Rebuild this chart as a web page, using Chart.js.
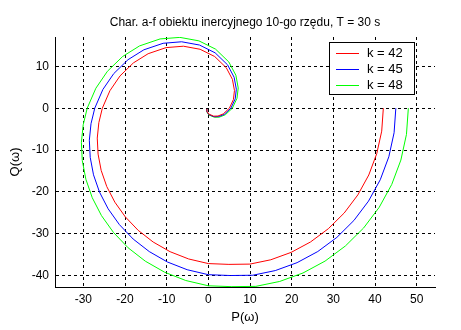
<!DOCTYPE html>
<html>
<head>
<meta charset="utf-8">
<script src="https://cdn.jsdelivr.net/npm/chart.js@4/dist/chart.umd.min.js"></script>
<style>
  html, body { margin: 0; padding: 0; background: #fff; }
  #wrap { width: 461px; height: 330px; }
</style>
</head>
<body>
<div id="wrap"><canvas id="nyq" width="461" height="330"></canvas></div>
<script>
// punkty: P(w) i Q(w) dla k = 42, 45, 48
const p42 = [42, 41.61, 40.43, 38.51, 35.88, 32.61, 28.79, 24.52, 19.88, 14.99, 9.98, 4.94, 0, -4.74, -9.18, -13.24, -16.84, -19.92, -22.44, -24.38, -25.72, -26.46, -26.66, -26.28, -25.44, -23.62, -21.19, -17.99, -14.45, -10.13, -5.98, -1.98, 1.52, 4.30, 5.78, 6.27, 6.02, 5.05, 3.57, 2.30, 1.28, 0.10, -0.36, -0.34];
const q42 = [0, -5.48, -10.83, -15.95, -20.71, -25.03, -28.79, -31.95, -34.43, -36.20, -37.23, -37.30, -37.11, -36.00, -34.27, -31.96, -29.17, -25.96, -22.44, -18.71, -14.85, -10.96, -7.14, -3.46, 0, 4.17, 7.71, 10.81, 13.01, 14.47, 14.80, 14.07, 12.34, 9.67, 6.89, 4.23, 2.07, 0, -1.37, -1.87, -1.90, -1.40, -0.71, -0.17];

const p45 = [45, 44.58, 43.32, 41.26, 38.44, 34.94, 30.85, 26.27, 21.30, 16.06, 10.69, 5.29, 0, -5.08, -9.84, -14.18, -18.04, -21.34, -24.04, -26.12, -27.56, -28.35, -28.56, -28.16, -27.26, -25.31, -22.70, -19.28, -15.48, -10.85, -6.41, -2.12, 1.63, 4.61, 6.19, 6.72, 6.45, 5.41, 3.83, 2.46, 1.37, 0.11, -0.39, -0.36];
const q45 = [0, -5.87, -11.60, -17.09, -22.19, -26.81, -30.85, -34.23, -36.89, -38.78, -39.89, -39.96, -39.76, -38.57, -36.72, -34.24, -31.25, -27.81, -24.04, -20.04, -15.91, -11.74, -7.65, -3.71, 0, 4.47, 8.26, 11.58, 13.94, 15.50, 15.86, 15.08, 13.22, 10.36, 7.38, 4.53, 2.22, 0, -1.47, -2.00, -2.04, -1.50, -0.76, -0.18];

const p48 = [48, 47.55, 46.21, 44.01, 41.01, 37.27, 32.90, 28.02, 22.72, 17.14, 11.41, 5.64, 0, -5.42, -10.49, -15.13, -19.25, -22.77, -25.65, -27.86, -29.39, -30.25, -30.47, -30.03, -29.07, -26.99, -24.22, -20.56, -16.51, -11.58, -6.83, -2.26, 1.74, 4.91, 6.61, 7.17, 6.88, 5.77, 4.08, 2.63, 1.46, 0.11, -0.41, -0.39];
const q48 = [0, -6.26, -12.38, -18.23, -23.67, -28.60, -32.90, -36.51, -39.35, -41.37, -42.55, -42.62, -42.41, -41.15, -39.17, -36.53, -33.34, -29.67, -25.65, -21.38, -16.97, -12.53, -8.16, -3.95, 0, 4.77, 8.81, 12.35, 14.87, 16.54, 16.91, 16.08, 14.10, 11.05, 7.87, 4.83, 2.37, 0, -1.57, -2.14, -2.17, -1.60, -0.81, -0.19];

const seriesNames = ['k = 42', 'k = 45', 'k = 48'];
const seriesColors = ['#ff0000', '#0000ff', '#00ff00'];

const xTicks = [-30, -20, -10, 0, 10, 20, 30, 40, 50];
const yTicks = [-40, -30, -20, -10, 0, 10];

const chartTitle = 'Char. a-f obiektu inercyjnego 10-go rzędu, T = 30 s';
const xLabel = 'P(\u03c9)';
const yLabel = 'Q(\u03c9)';

const FONT = '"Liberation Sans", Arial, sans-serif';

function toPoints(ps, qs) {
    return ps.map((p, i) => ({ x: p, y: qs[i] }));
}

const allSeries = [[p42, q42], [p45, q45], [p48, q48]];

const datasets = allSeries.map((s, i) => ({
    label: seriesNames[i],
    data: toPoints(s[0], s[1]),
    borderColor: seriesColors[i],
    backgroundColor: seriesColors[i],
    borderWidth: 1,
    pointRadius: 0,
    showLine: true,
    tension: 0
}));

// tytul, opisy osi i legenda rysowane recznie (jak w MATLABie)
const textPlugin = {
    id: 'matlabText',
    afterDraw(chart) {
        const ctx = chart.ctx;
        const area = chart.chartArea;
        ctx.save();
        ctx.setLineDash([]);
        ctx.fillStyle = '#000';
        ctx.textAlign = 'center';
        ctx.textBaseline = 'middle';

        ctx.font = '12px ' + FONT;
        ctx.fillText(chartTitle, (area.left + area.right) / 2, 23);

        ctx.font = '13px ' + FONT;
        ctx.fillText(xLabel, (area.left + area.right) / 2, 317);

        ctx.save();
        ctx.translate(15, (area.top + area.bottom) / 2);
        ctx.rotate(-Math.PI / 2);
        ctx.fillText(yLabel, 0, 0);
        ctx.restore();

        // legenda
        const bx = 329.5, by = 42.5, bw = 85, bh = 52;
        ctx.fillStyle = '#fff';
        ctx.fillRect(bx, by, bw, bh);
        ctx.strokeStyle = '#000';
        ctx.lineWidth = 1;
        ctx.strokeRect(bx, by, bw, bh);

        ctx.font = '13px ' + FONT;
        ctx.textAlign = 'left';
        seriesNames.forEach((name, i) => {
            const yy = Math.round(by + 10 + i * 16);
            ctx.fillStyle = seriesColors[i];
            ctx.fillRect(336, yy, 23, 1);
            ctx.fillStyle = '#000';
            ctx.fillText(name, 367, yy + 0.5);
        });
        ctx.restore();
    }
};

const gridOpts = { color: '#000', lineWidth: 1, drawTicks: false };
const borderOpts = { color: '#000', width: 1, dash: [3, 3] };

new Chart(document.getElementById('nyq'), {
    type: 'scatter',
    data: { datasets },
    options: {
        responsive: false,
        animation: false,
        devicePixelRatio: 1,
        layout: { padding: { left: 0, right: 26, top: 37, bottom: 0 } },
        plugins: {
            legend: { display: false },
            title: { display: false },
            tooltip: { enabled: false }
        },
        scales: {
            x: {
                type: 'linear',
                min: -36.8,
                max: 54.4,
                grid: gridOpts,
                border: borderOpts,
                afterBuildTicks: (scale) => { scale.ticks = xTicks.map(v => ({ value: v })); },
                afterFit: (scale) => { scale.height = 43; },
                ticks: {
                    color: '#000',
                    padding: 5,
                    maxRotation: 0,
                    font: { family: FONT, size: 12 }
                }
            },
            y: {
                type: 'linear',
                min: -42.7,
                max: 17.0,
                grid: gridOpts,
                border: borderOpts,
                afterBuildTicks: (scale) => { scale.ticks = yTicks.map(v => ({ value: v })); },
                afterFit: (scale) => { scale.width = 55; },
                ticks: {
                    color: '#000',
                    padding: 6,
                    font: { family: FONT, size: 12 }
                }
            }
        }
    },
    plugins: [textPlugin]
});
</script>
</body>
</html>
